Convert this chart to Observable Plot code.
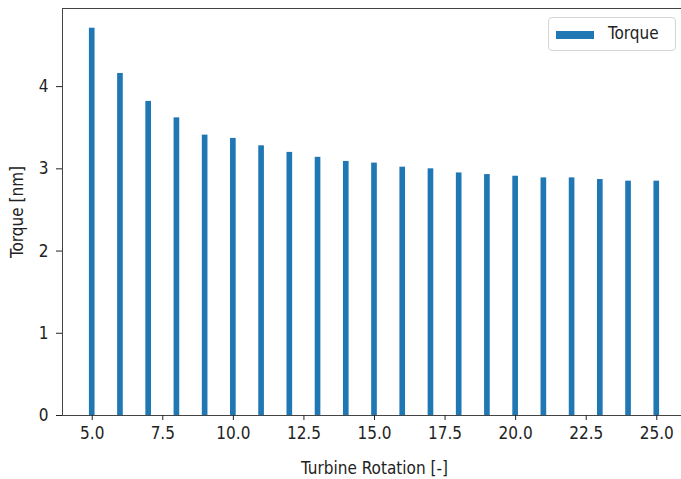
<!DOCTYPE html>
<html>
<head>
<meta charset="utf-8">
<script src="https://cdn.jsdelivr.net/npm/d3@7"></script>
<script src="https://cdn.jsdelivr.net/npm/@observablehq/plot@0.6"></script>
<style>
  html, body { margin: 0; padding: 0; background: #fff; overflow: hidden; width: 681px; height: 479px; }
  #wrap { position: relative; width: 681px; height: 479px; overflow: hidden; }
  #wrap svg { position: absolute; left: 0; top: 0; max-width: none !important; height: 479px !important; }
  #legend { position: absolute; left: 548px; top: 17px; width: 128px; height: 34px; box-sizing: border-box;
    border: 1px solid #d6d6d6; border-radius: 4px; background: #fff;
    font-family: "DejaVu Sans Condensed", "DejaVu Sans", sans-serif; font-size: 17px; color: #222; }
  #legend .sw { position: absolute; left: 7px; top: 13px; width: 38px; height: 8px; background: #1f77b4; }
  #legend .lb { position: absolute; left: 59px; top: 5px; }
</style>
</head>
<body>
<div id="wrap"></div>
<script>
const rotation = [5, 6, 7, 8, 9, 10, 11, 12, 13, 14, 15, 16, 17, 18, 19, 20, 21, 22, 23, 24, 25];
const torque = [4.71, 4.16, 3.82, 3.62, 3.41, 3.37, 3.28, 3.20, 3.14, 3.09, 3.07, 3.02, 3.00, 2.95, 2.93, 2.91, 2.89, 2.89, 2.87, 2.85, 2.85];
const xTicks = [5, 7.5, 10, 12.5, 15, 17.5, 20, 22.5, 25];
const yTicks = [0, 1, 2, 3, 4];
const seriesName = "Torque";
const barWidth = 0.2;

const data = rotation.map((x, i) => ({x, y: torque[i]}));

const chart = Plot.plot({
  width: 687,
  height: 479,
  marginTop: 8,
  marginBottom: 64,
  marginLeft: 62,
  marginRight: 1,
  style: {fontFamily: "'DejaVu Sans Condensed', 'DejaVu Sans', sans-serif", fontSize: "17px", color: "#222", background: "#fff"},
  x: {domain: [3.947, 26.053]},
  y: {domain: [0, 4.95]},
  marks: [
    Plot.rectY(data, {x1: d => d.x - barWidth / 2, x2: d => d.x + barWidth / 2, y: "y", fill: "#1f77b4"}),
    Plot.frame({stroke: "#444", strokeWidth: 1}),
    Plot.axisX({ticks: xTicks, tickFormat: d3.format(".1f"), tickSize: 5, tickPadding: 6, fontSize: 17,
      label: "Turbine Rotation [-]", labelAnchor: "center", labelOffset: 58, labelArrow: "none"}),
    Plot.axisY({ticks: yTicks, tickFormat: d3.format("d"), tickSize: 6, tickPadding: 8, fontSize: 17,
      label: "Torque [nm]", labelAnchor: "center", labelOffset: 52, labelArrow: "none"})
  ]
});

const wrap = document.getElementById("wrap");
wrap.appendChild(chart);
const legend = document.createElement("div");
legend.id = "legend";
legend.innerHTML = `<div class="sw"></div><div class="lb"></div>`;
legend.querySelector(".lb").textContent = seriesName;
wrap.appendChild(legend);
</script>
</body>
</html>
